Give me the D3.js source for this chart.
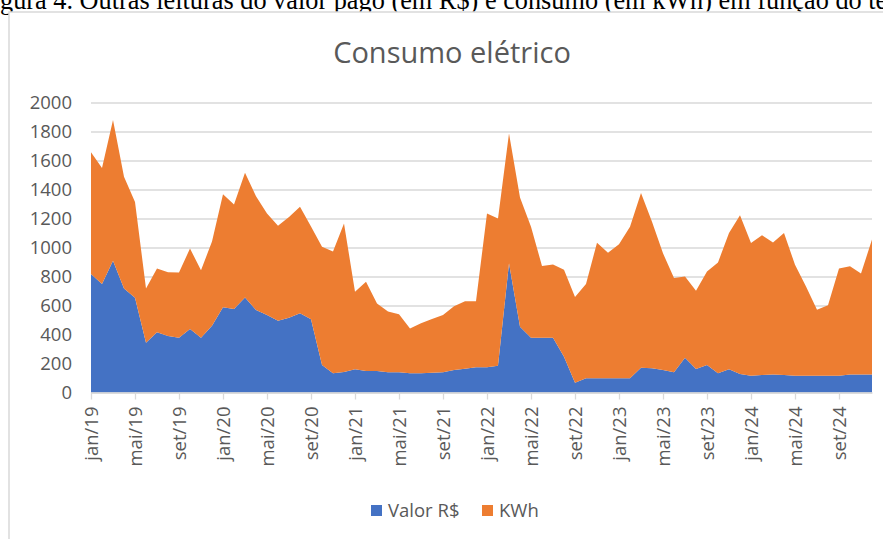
<!DOCTYPE html>
<html>
<head>
<meta charset="utf-8">
<script src="https://cdn.jsdelivr.net/npm/d3@7"></script>
<style>
  body { margin: 0; background: #fff; }
  svg { display: block; }
</style>
</head>
<body>
<div id="chart"></div>
<script>
// Monthly readings, jan/19 .. dez/24
var monthNames = ["jan", "fev", "mar", "abr", "mai", "jun", "jul", "ago", "set", "out", "nov", "dez"];
var years = [19, 20, 21, 22, 23, 24];

var valor = [
  817, 748, 909, 718, 654, 343, 415, 390, 378, 438, 378, 461,
  588, 576, 656, 569, 534, 495, 516, 546, 505, 190, 132, 141,
  160, 148, 148, 139, 139, 132, 132, 137, 139, 155, 164, 174,
  174, 185, 891, 454, 378, 378, 378, 247, 68, 98, 98, 98,
  98, 98, 171, 167, 155, 139, 240, 162, 190, 132, 160, 128,
  116, 120, 125, 120, 116, 116, 116, 116, 116, 125, 125, 125
];

var kwh = [
  840, 800, 970, 770, 660, 375, 440, 440, 450, 555, 465, 580,
  780, 720, 860, 785, 700, 655, 695, 735, 640, 815, 840, 1025,
  535, 615, 465, 420, 400, 310, 345, 370, 395, 440, 465, 455,
  1060, 1015, 895, 890, 765, 495, 505, 600, 590, 650, 935, 865,
  925, 1045, 1205, 1010, 805, 650, 560, 540, 645, 765, 940, 1095,
  915, 965, 910, 980, 765, 615, 455, 485, 740, 745, 695, 930
];

var yTicks = [0, 200, 400, 600, 800, 1000, 1200, 1400, 1600, 1800, 2000];
var seriesNames = ["Valor R$", "KWh"];
var colors = ["#4472C4", "#ED7D31"];

var months = [];
years.forEach(function (yr) {
  monthNames.forEach(function (m) { months.push(m + "/" + yr); });
});

var data = months.map(function (m, i) {
  return {month: m, "Valor R$": valor[i], "KWh": kwh[i]};
});

var divWidth = 883,
    divHeight = 539,
    margin = {top: 102.5, left: 91, bottom: 146.5, right: 11},
    width = divWidth - margin.left - margin.right,
    height = divHeight - margin.top - margin.bottom;

var font = "'Open Sans', 'DejaVu Sans', sans-serif";
var textColor = "#595959";

var svg = d3.select("#chart")
  .append("svg")
  .attr("width", divWidth)
  .attr("height", divHeight);

// Figure caption, cut off at the top of the page as in the source
var caption = svg.append("text")
  .attr("y", 9)
  .style("font-family", "'Liberation Serif', 'Times New Roman', serif")
  .style("font-size", "26.3px")
  .attr("fill", "#000")
  .text("Fi");
var prefixW = caption.node().getComputedTextLength();
caption.attr("x", -prefixW)
  .text("Figura 4. Outras leituras do valor pago (em R$) e consumo (em kWh) em função do tempo");

// Chart frame
svg.append("rect")
  .attr("x", 9)
  .attr("y", 12)
  .attr("width", 900)
  .attr("height", 560)
  .attr("fill", "#fff")
  .attr("stroke", "#d9d9d9")
  .attr("stroke-width", 1.5);

// Title
svg.append("text")
  .attr("x", 452)
  .attr("y", 63)
  .attr("text-anchor", "middle")
  .style("font-family", font)
  .style("font-size", "29px")
  .attr("fill", textColor)
  .text("Consumo elétrico");

var g = svg.append("g")
  .attr("transform", `translate(${margin.left},${margin.top})`);

var x = d3.scalePoint()
  .domain(months)
  .range([0, width]);

var y = d3.scaleLinear()
  .domain([0, 2000])
  .range([height, 0]);

// Gridlines + y labels
var yAxis = g.append("g")
  .call(d3.axisLeft(y)
    .tickValues(yTicks)
    .tickFormat(d3.format("d"))
    .tickSize(-width)
    .tickPadding(19));
yAxis.select(".domain").remove();
yAxis.selectAll("line").attr("stroke", "#d9d9d9").attr("stroke-width", 1.3);
yAxis.selectAll("text")
  .style("font-family", font)
  .style("font-size", "18.5px")
  .attr("fill", textColor);

// Stacked areas
var series = d3.stack().keys(seriesNames)(data);

var area = d3.area()
  .x(function (d) { return x(d.data.month); })
  .y0(function (d) { return y(d[0]); })
  .y1(function (d) { return y(d[1]); });

g.append("g")
  .selectAll("path")
  .data(series)
  .join("path")
    .attr("fill", function (d, i) { return colors[i]; })
    .attr("d", area);

// x axis
var xAxis = g.append("g")
  .attr("transform", `translate(0,${height})`)
  .call(d3.axisBottom(x)
    .tickValues(months.filter(function (d, i) { return i % 4 === 0; }))
    .tickSize(7)
    .tickSizeOuter(0)
    .tickPadding(8));
xAxis.select(".domain").attr("stroke", "#d9d9d9").attr("stroke-width", 1.3);
xAxis.selectAll("line").attr("stroke", "#d9d9d9").attr("stroke-width", 1.3);
xAxis.selectAll("text")
  .style("font-family", font)
  .style("font-size", "18.5px")
  .attr("fill", textColor)
  .attr("transform", "rotate(-90)")
  .attr("text-anchor", "end")
  .attr("x", -14)
  .attr("y", 0)
  .attr("dy", "0.35em");

// Legend
var legendX = [371, 482];
var legend = svg.append("g")
  .selectAll("g")
  .data(seriesNames)
  .join("g")
    .attr("transform", function (d, i) { return `translate(${legendX[i]},505)`; });

legend.append("rect")
  .attr("width", 11)
  .attr("height", 11)
  .attr("fill", function (d, i) { return colors[i]; });

legend.append("text")
  .attr("x", 17)
  .attr("y", 11.5)
  .style("font-family", font)
  .style("font-size", "18.5px")
  .attr("fill", textColor)
  .text(function (d) { return d; });
</script>
</body>
</html>
